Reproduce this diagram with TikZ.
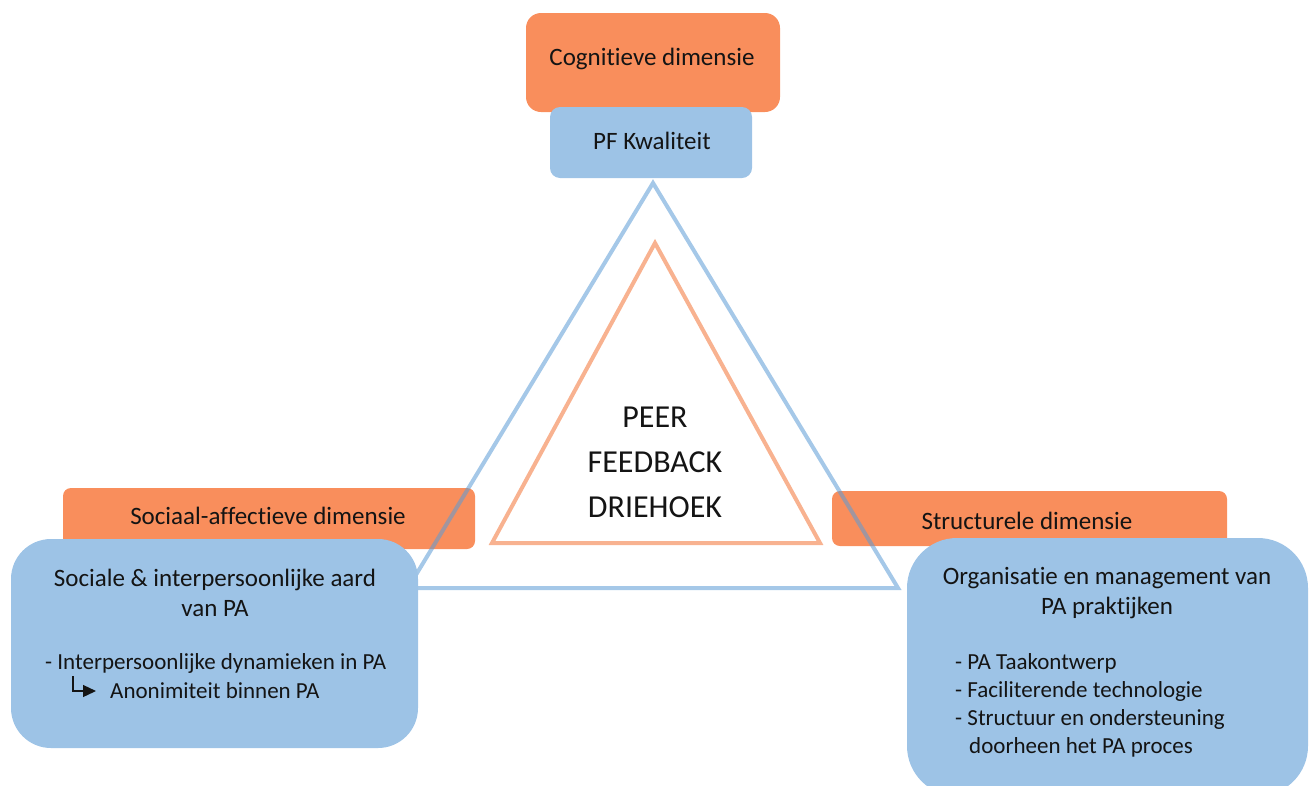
\documentclass[tikz,border=0pt]{standalone}
\usepackage{fontspec}
\setmainfont{Carlito}[Ligatures={NoCommon}]
\usetikzlibrary{arrows.meta}

\definecolor{dimorange}{RGB}{249,142,92}
\definecolor{itemblue}{RGB}{157,195,230}
\definecolor{triblue}{RGB}{91,155,213}
\definecolor{trisalmon}{RGB}{248,178,144}
\definecolor{ink}{RGB}{20,20,20}

\newcommand\labelsize{\fontsize{25}{30}\selectfont}
\newcommand\itemsize{\fontsize{23}{28}\selectfont}
\newcommand\coresize{\fontsize{32}{45}\selectfont}

\begin{document}
\begin{tikzpicture}[x=1pt,y=-1pt,
  dimbox/.style={fill=dimorange, draw=none, inner sep=0pt},
  itembox/.style={fill=itemblue, draw=none, inner sep=0pt},
  txt/.style={text=ink, font=\labelsize, inner sep=0pt},
  ctxt/.style={txt, align=center},
  ltxt/.style={txt, font=\itemsize, anchor=west},
  outertri/.style={draw=triblue, draw opacity=0.55, line width=4pt, line join=miter},
  innertri/.style={draw=trisalmon, line width=4pt, line join=miter}]

\useasboundingbox (0,0) rectangle (1313,785);

% --- dimension labels (orange) ---
\node[dimbox, rounded corners=15pt, minimum width=254pt, minimum height=99pt] (cogbox) at (653,62.5) {};
\node[txt] (cog) at (652,59) {Cognitieve dimensie};

\node[dimbox, rounded corners=8pt, minimum width=412pt, minimum height=61pt] (socbox) at (269,518.5) {};
\node[txt] (soc) at (268,516) {Sociaal-affectieve dimensie};

\node[dimbox, rounded corners=8pt, minimum width=395pt, minimum height=55pt] (strbox) at (1029.5,518.5) {};
\node[txt] (str) at (1027,521) {Structurele dimensie};

% --- the triangles ---
\coordinate (ta) at (653,183);
\coordinate (tr) at (898,588);
\coordinate (tl) at (408,588);
\draw[outertri] (ta) -- (tr) -- (tl) -- cycle;

\coordinate (ia) at (655,243);
\coordinate (ir) at (820,543);
\coordinate (il) at (492,543);
\draw[innertri] (ia) -- (ir) -- (il) -- cycle;

\node[txt, font=\coresize, align=center] (core) at (655,462) {PEER\\FEEDBACK\\DRIEHOEK};

% --- content boxes (blue) ---
\node[itembox, rounded corners=10pt, minimum width=202pt, minimum height=71pt] (pfbox) at (651,142.5) {};
\node[txt] (pf) at (652,141) {PF Kwaliteit};

\node[itembox, rounded corners=40pt, minimum width=407pt, minimum height=209pt] (leftbox) at (214.5,643.5) {};
\node[ctxt] (lefttitle) at (215,593) {Sociale \& interpersoonlijke aard\\van PA};
\node[ltxt] (leftitem) at (45,663) {- Interpersoonlijke dynamieken in PA};
\node[ltxt] (leftsub) at (110,691) {Anonimiteit binnen PA};
\coordinate (hooktop) at (73,676);
\coordinate (hookcorner) at (73,691);
\coordinate (hookend) at (96,691);
\draw[ink, line width=1.3pt, -{Triangle[length=13pt,width=12pt]}]
  (hooktop) -- (hookcorner) -- (hookend);

\node[itembox, rounded corners=50pt, minimum width=401pt, minimum height=258pt] (rightbox) at (1107.5,667) {};
\node[ctxt] (righttitle) at (1107,593) {Organisatie en management van\\PA praktijken};
\node[ltxt] (ritem1) at (955,663) {- PA Taakontwerp};
\node[ltxt] (ritem2) at (955,691) {- Faciliterende technologie};
\node[ltxt] (ritem3) at (955,719) {- Structuur en ondersteuning};
\node[ltxt] (ritem4) at (969,747) {doorheen het PA proces};

\end{tikzpicture}
\end{document}
